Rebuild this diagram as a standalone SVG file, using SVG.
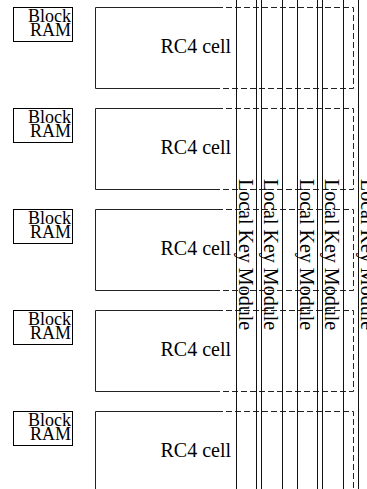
<svg xmlns="http://www.w3.org/2000/svg" width="367" height="489" viewBox="0 0 367 489">
<style>
  text { font-family: "Liberation Serif", "Times New Roman", serif; fill: #000; }
  .lbl { font-size: 20px; text-anchor: end; }
  .bram rect { fill: #fff; stroke: #000; stroke-width: 1; }
  .bram text { font-size: 18px; text-anchor: end; }
  .solid { fill: none; stroke: #222; stroke-width: 1; }
  .dash { fill: none; stroke: #222; stroke-width: 1; stroke-dasharray: 6 3; }
  .col rect { fill: none; stroke: #111; stroke-width: 1; }
  .coltxt { font-size: 20px; }
</style>
<rect width="367" height="489" fill="#fff"/>

<g id="bram1" class="bram"><rect x="13.5" y="7.5" width="59" height="34"/><text x="71" y="22">Block</text><text x="71" y="36">RAM</text></g>
<g id="bram2" class="bram"><rect x="13.5" y="108.5" width="59" height="34"/><text x="71" y="123">Block</text><text x="71" y="137">RAM</text></g>
<g id="bram3" class="bram"><rect x="13.5" y="209.5" width="59" height="34"/><text x="71" y="224">Block</text><text x="71" y="238">RAM</text></g>
<g id="bram4" class="bram"><rect x="13.5" y="310.5" width="59" height="34"/><text x="71" y="325">Block</text><text x="71" y="339">RAM</text></g>
<g id="bram5" class="bram"><rect x="13.5" y="411.5" width="59" height="34"/><text x="71" y="426">Block</text><text x="71" y="440">RAM</text></g>

<g id="rc4_1"><path class="solid" d="M217,7.5 H95.5 V88.5 H217"/><path class="dash" d="M217,7.5 H353.5 V88.5 H217"/><text class="lbl" x="231" y="53">RC4 cell</text></g>
<g id="rc4_2"><path class="solid" d="M217,108.5 H95.5 V189.5 H217"/><path class="dash" d="M217,108.5 H353.5 V189.5 H217"/><text class="lbl" x="231" y="154">RC4 cell</text></g>
<g id="rc4_3"><path class="solid" d="M217,209.5 H95.5 V290.5 H217"/><path class="dash" d="M217,209.5 H353.5 V290.5 H217"/><text class="lbl" x="231" y="255">RC4 cell</text></g>
<g id="rc4_4"><path class="solid" d="M217,310.5 H95.5 V391.5 H217"/><path class="dash" d="M217,310.5 H353.5 V391.5 H217"/><text class="lbl" x="231" y="356">RC4 cell</text></g>
<g id="rc4_5"><path class="solid" d="M217,411.5 H95.5 V492"/><path class="dash" d="M217,411.5 H353.5 V492"/><text class="lbl" x="231" y="457">RC4 cell</text></g>

<g id="lkm1" class="col"><rect x="236.5" y="-2" width="20" height="494"/><text class="coltxt" transform="translate(239,179) rotate(90)">Local Key Module</text></g>
<g id="lkm2" class="col"><rect x="261.5" y="-2" width="21" height="494"/><text class="coltxt" transform="translate(264,179) rotate(90)">Local Key Module</text></g>
<g id="lkm3" class="col"><rect x="297.5" y="-2" width="20" height="494"/><text class="coltxt" transform="translate(300,179) rotate(90)">Local Key Module</text></g>
<g id="lkm4" class="col"><rect x="322.5" y="-2" width="21" height="494"/><text class="coltxt" transform="translate(325,179) rotate(90)">Local Key Module</text></g>
<g id="lkm5" class="col"><rect x="358.5" y="-2" width="21" height="494"/><text class="coltxt" transform="translate(361,179) rotate(90)">Local Key Module</text></g>
</svg>
